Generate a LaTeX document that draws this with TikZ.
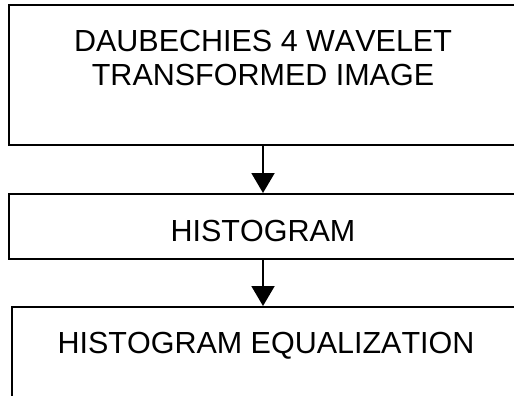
\documentclass[tikz,border=0pt]{standalone}
\usepackage{fontspec}
\setmainfont[Kerning=Off]{Liberation Sans}
\usetikzlibrary{arrows.meta}
\tikzset{
  stage/.style={draw, line width=2pt, minimum width=508pt, inner sep=0pt, align=center,
    font=\fontsize{30.5}{34}\selectfont},
  flow/.style={line width=2pt, -{Triangle[width=23pt,length=20pt]}}
}
\begin{document}
\begin{tikzpicture}[x=1pt,y=-1pt]
\useasboundingbox (0,0) rectangle (514,396);
\clip (0,0) rectangle (514,396);
\node[stage, anchor=north, minimum height=140pt] (img) at (263,4){DAUBECHIES 4 WAVELET\\TRANSFORMED IMAGE\\\mbox{}};
\node[stage, anchor=north, minimum height=65pt, text height=29pt, text depth=0pt] (hist) at (263,193){HISTOGRAM};
\node[stage, anchor=north, minimum height=106.5pt] (histeq) at (266,306){HISTOGRAM EQUALIZATION\\\mbox{}};
\draw[flow](img.south) -- (hist.north);
\draw[flow](hist.south) -- (hist.south |- histeq.north);
\end{tikzpicture}
\end{document}
